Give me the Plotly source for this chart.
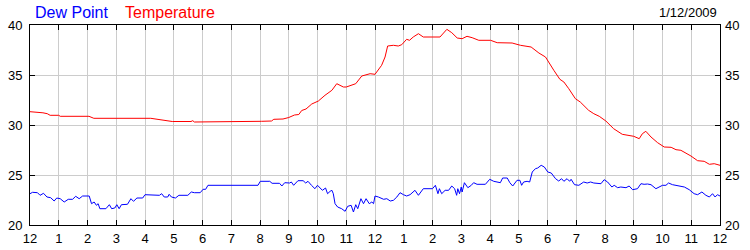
import plotly.graph_objects as go

# Hours since midnight (0..24) and readings (deg F)
temp_hours = [0.00, 0.25, 0.45, 0.60, 0.70, 1.00, 1.05, 2.05, 2.22, 4.20, 4.35, 4.50, 4.62, 4.80, 4.95,
              5.60, 5.66, 5.72, 8.00, 8.05, 8.40, 8.48, 8.80, 9.00, 9.20, 9.35, 9.45, 9.60, 9.80,
              10.03, 10.26, 10.50, 10.67, 10.90, 11.00, 11.19, 11.33, 11.54, 11.83, 12.00, 12.23,
              12.35, 12.44, 12.64, 12.81, 12.93, 13.10, 13.20, 13.33, 13.51, 13.68, 14.26, 14.50,
              14.67, 14.86, 15.03, 15.20, 15.38, 15.61, 16.02, 16.25, 16.77, 17.06, 17.43, 17.70,
              17.93, 18.05, 18.22, 18.43, 18.57, 18.74, 18.97, 19.14, 19.43, 19.61, 19.80, 20.03,
              20.20, 20.30, 20.60, 20.84, 21.00, 21.19, 21.30, 21.42, 21.60, 21.83, 22.06, 22.30,
              22.47, 22.64, 22.81, 22.99, 23.22, 23.45, 23.63, 23.80, 24.00]
temperature = [31.33, 31.30, 31.22, 31.13, 30.97, 30.97, 30.87, 30.87, 30.67, 30.67, 30.60, 30.57, 30.45,
               30.42, 30.35, 30.35, 30.43, 30.30, 30.30, 30.37, 30.40, 30.57, 30.60, 30.75, 31.00, 31.05,
               31.45, 31.60, 32.10, 32.40, 32.97, 33.47, 34.13, 33.80, 33.80, 34.03, 34.13, 34.90, 35.13,
               35.07, 35.97, 36.80, 37.90, 37.97, 37.90, 38.03, 38.57, 38.47, 38.80, 39.13, 38.80, 38.80,
               39.57, 39.23, 38.70, 38.63, 38.87, 38.73, 38.47, 38.47, 38.23, 38.20, 37.97, 37.80, 37.20,
               36.80, 36.30, 35.47, 34.57, 34.30, 33.63, 32.63, 32.30, 31.47, 31.13, 30.87, 30.40, 29.97,
               29.63, 29.07, 28.97, 28.87, 28.63, 29.13, 29.37, 28.80, 28.23, 27.80, 27.77, 27.53, 27.47,
               27.20, 26.90, 26.43, 26.37, 26.07, 26.13, 25.97]

dew_hours = [0.00, 0.09, 0.26, 0.35, 0.47, 0.59, 0.72, 0.84, 0.93, 1.05, 1.19, 1.33, 1.48, 1.59, 1.71,
             1.83, 2.06, 2.14, 2.23, 2.31, 2.37, 2.43, 2.64, 2.76, 2.84, 2.95, 3.02, 3.10, 3.18, 3.39,
             3.51, 3.60, 3.72, 3.92, 4.00, 4.26, 4.32, 4.50, 4.58, 4.67, 4.79, 4.84, 4.92, 5.06, 5.18,
             5.49, 5.61, 5.72, 5.92, 6.02, 6.11, 6.19, 7.93, 8.01, 8.34, 8.42, 8.68, 8.76, 8.86, 9.03,
             9.09, 9.17, 9.32, 9.50, 9.59, 9.67, 9.79, 9.91, 10.00, 10.09, 10.17, 10.28, 10.35, 10.44,
             10.50, 10.55, 10.61, 10.70, 10.84, 10.96, 11.05, 11.17, 11.25, 11.33, 11.40, 11.51, 11.60,
             11.69, 11.80, 11.89, 11.95, 12.00, 12.12, 12.30, 12.41, 12.53, 12.64, 12.76, 12.87, 12.99,
             13.10, 13.22, 13.39, 13.51, 13.68, 14.00, 14.10, 14.19, 14.24, 14.32, 14.44, 14.56, 14.67,
             14.77, 14.84, 14.88, 14.94, 15.00, 15.03, 15.11, 15.23, 15.35, 15.43, 15.55, 15.84, 15.99,
             16.13, 16.36, 16.44, 16.60, 16.69, 16.79, 16.94, 17.04, 17.10, 17.17, 17.29, 17.38, 17.47,
             17.58, 17.66, 17.78, 17.89, 18.01, 18.13, 18.28, 18.39, 18.49, 18.57, 18.68, 18.77, 18.82,
             18.94, 19.09, 19.26, 19.38, 19.50, 19.61, 19.86, 19.97, 20.09, 20.24, 20.32, 20.44, 20.55,
             20.73, 20.84, 20.96, 21.13, 21.25, 21.36, 21.48, 21.60, 21.77, 21.89, 22.00, 22.12, 22.21,
             22.35, 22.58, 22.76, 22.93, 23.10, 23.22, 23.37, 23.51, 23.63, 23.74, 23.83, 23.91, 24.00]
dew_point = [23.13, 23.27, 23.23, 22.97, 23.17, 22.80, 22.73, 22.40, 22.70, 22.63, 22.30, 22.57, 22.57,
             22.87, 22.63, 22.90, 22.90, 22.13, 22.30, 21.97, 22.13, 21.63, 21.63, 22.03, 21.63, 21.70,
             22.03, 21.63, 22.03, 22.07, 22.63, 22.37, 22.70, 22.70, 23.03, 23.03, 22.97, 22.97, 23.13,
             22.80, 22.80, 23.07, 22.80, 22.70, 22.97, 22.97, 23.30, 23.23, 23.23, 23.57, 23.57, 23.97,
             23.97, 24.37, 24.37, 24.17, 24.17, 23.90, 24.23, 24.20, 24.30, 23.97, 24.43, 24.43, 24.20,
             24.37, 23.97, 23.63, 23.97, 23.73, 23.47, 23.70, 23.13, 23.37, 23.47, 23.13, 22.13, 21.80,
             21.63, 21.37, 21.87, 21.97, 21.30, 22.03, 21.63, 22.63, 22.13, 22.63, 22.13, 22.30, 22.13,
             22.90, 22.80, 22.57, 22.63, 22.40, 22.47, 22.80, 23.23, 23.03, 22.90, 23.03, 23.47, 22.97,
             23.63, 23.63, 23.97, 23.13, 23.63, 23.13, 23.47, 23.47, 23.90, 23.63, 22.97, 23.63, 23.13,
             23.80, 23.30, 24.23, 23.73, 23.97, 24.23, 24.07, 24.07, 24.57, 24.37, 24.23, 24.70, 24.70,
             24.23, 23.90, 24.47, 24.47, 23.97, 24.30, 24.37, 24.30, 25.30, 25.63, 25.70, 25.97, 25.80,
             25.30, 25.20, 24.63, 24.40, 24.63, 24.37, 24.63, 24.37, 24.57, 24.03, 23.97, 24.30, 24.20,
             24.30, 24.20, 24.13, 24.53, 24.30, 23.80, 23.97, 23.73, 23.80, 23.73, 23.90, 23.53, 23.63,
             24.13, 24.07, 24.10, 24.03, 23.63, 23.77, 23.97, 23.97, 24.20, 24.03, 23.87, 23.80, 23.53,
             23.13, 23.03, 23.30, 22.97, 22.80, 23.13, 22.80, 23.03, 22.90]

tick_hours = list(range(25))
tick_labels = ["12", "1", "2", "3", "4", "5", "6", "7", "8", "9", "10", "11",
               "12", "1", "2", "3", "4", "5", "6", "7", "8", "9", "10", "11", "12"]
y_ticks = [20, 25, 30, 35, 40]
date_label = "1/12/2009"
series_names = ["Dew Point", "Temperature"]
series_colors = ["#0000ff", "#ff0000"]

FONT = "Liberation Sans, Arial, sans-serif"
ML, MR, MT, MB = 30, 30, 25, 25
W, H = 750, 250

fig = go.Figure()
fig.add_trace(go.Scatter(x=dew_hours, y=dew_point, mode="lines", name=series_names[0],
                         line=dict(color=series_colors[0], width=1), showlegend=False))
fig.add_trace(go.Scatter(x=temp_hours, y=temperature, mode="lines", name=series_names[1],
                         line=dict(color=series_colors[1], width=1), showlegend=False))
# invisible trace to anchor right axis
fig.add_trace(go.Scatter(x=[0], y=[30], yaxis="y2", mode="markers",
                         marker=dict(opacity=0), showlegend=False, hoverinfo="skip"))

fig.update_layout(
    width=W, height=H,
    margin=dict(l=ML, r=MR, t=MT, b=MB, autoexpand=False),
    paper_bgcolor="white", plot_bgcolor="white",
    font=dict(family=FONT, size=13, color="#000000"),
    xaxis=dict(range=[0, 24], tickmode="array", tickvals=tick_hours, ticktext=tick_labels,
               showgrid=True, gridcolor="#cccccc", gridwidth=1, automargin=False,
               showline=True, linecolor="black", linewidth=1, mirror="ticks",
               ticks="inside", ticklen=5, tickcolor="black", tickwidth=1,
               zeroline=False, ticklabelstandoff=1),
    yaxis=dict(range=[20, 40], tickmode="array", tickvals=y_ticks, automargin=False,
               showgrid=True, gridcolor="#cccccc", gridwidth=1,
               showline=True, linecolor="black", linewidth=1, mirror="ticks",
               ticks="inside", ticklen=5, tickcolor="black", tickwidth=1,
               zeroline=False, ticklabelstandoff=4),
    yaxis2=dict(range=[20, 40], tickmode="array", tickvals=y_ticks, overlaying="y", side="right",
                automargin=False, showgrid=False, showline=False, ticks="", zeroline=False,
                ticklabelstandoff=4),
    annotations=[
        dict(text=series_names[0], x=33, y=12, xref="paper", yref="paper", showarrow=False,
             font=dict(size=16, color=series_colors[0], family=FONT), xanchor="left", yanchor="middle"),
        dict(text=series_names[1], x=123, y=12, xref="paper", yref="paper", showarrow=False,
             font=dict(size=16, color=series_colors[1], family=FONT), xanchor="left", yanchor="middle"),
        dict(text=date_label, x=719, y=12, xref="paper", yref="paper", showarrow=False,
             font=dict(size=13, color="#000000", family=FONT), xanchor="right", yanchor="middle"),
    ],
)

# convert pixel positions of header annotations to paper coords
plot_w = W - ML - MR
plot_h = H - MT - MB
for a in fig.layout.annotations:
    a.x = (a.x - ML) / plot_w
    a.y = (H - MB - a.y) / plot_h

fig.write_html("out.html")
